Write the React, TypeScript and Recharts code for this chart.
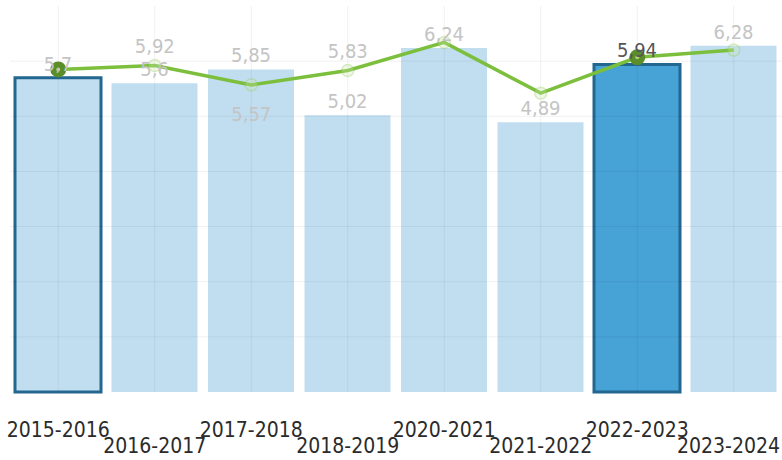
import React from "react";
import { ComposedChart, Bar, Line, XAxis, YAxis, ReferenceLine, Cell, LabelList } from "recharts";

const categories = ["2015-2016", "2016-2017", "2017-2018", "2018-2019", "2020-2021", "2021-2022", "2022-2023", "2023-2024"];
const barValues = [5.7, 5.6, 5.85, 5.02, 6.24, 4.89, 5.94, 6.28];
const lineValues = [5.85, 5.92, 5.57, 5.83, 6.34, 5.42, 6.07, 6.2];
const yTicks = [1, 2, 3, 4, 5, 6];
const outlinedCategory = "2015-2016";
const selectedCategory = "2022-2023";
const lineLabelPlacement = ["none", "above", "below", "above", "none", "none", "none", "none"];

const data = categories.map((c, i) => ({ name: c, bar: barValues[i], line: lineValues[i] }));

const FONT = "'DejaVu Sans Condensed', 'DejaVu Sans', sans-serif";
const fmt = (v: number) => String(v).replace(".", ",");

const Tick = (props: any) => {
  const { x, payload, index } = props;
  const y = index % 2 === 0 ? 437 : 453;
  const last = index === categories.length - 1;
  return (
    <text x={last ? 780 : x} y={y} textAnchor={last ? "end" : "middle"} fill="#2b2b2b" fontSize={21} fontFamily={FONT}>
      {payload.value}
    </text>
  );
};

const BarLabel = (props: any) => {
  const { x, y, width, value, index } = props;
  const sel = categories[index] === selectedCategory;
  return (
    <text x={x + width / 2} y={y - 7} textAnchor="middle" fill={sel ? "#555" : "#c4c4c4"} fontSize={20} fontFamily={FONT}>
      {fmt(value)}
    </text>
  );
};

const LineLabel = (props: any) => {
  const { x, y, value, index } = props;
  const p = lineLabelPlacement[index];
  if (p === "none") return null;
  const ty = p === "above" ? y - 13 : y + 36;
  return (
    <text x={x} y={ty} textAnchor="middle" fill="#c4c4c4" fontSize={20} fontFamily={FONT}>
      {fmt(value)}
    </text>
  );
};

const Dot = (props: any) => {
  const { cx, cy, index } = props;
  const c = categories[index];
  if (c === outlinedCategory || c === selectedCategory) {
    return (
      <g key={"d" + index}>
        <circle cx={cx} cy={cy} r={8} fill="#5b8d29" />
        <circle cx={cx} cy={cy} r={2} fill="#a9d46e" />
      </g>
    );
  }
  return <circle key={"d" + index} cx={cx} cy={cy} r={6} fill="rgba(205,232,175,0.3)" stroke="rgba(140,200,80,0.3)" strokeWidth={1.5} />;
};

export default function App() {
  return (
    <div style={{ position: "absolute", left: 0, top: 0, width: 782, height: 460, background: "#fff" }}>
      <ComposedChart width={782} height={460} data={data} margin={{ top: 6, right: 0, left: 10, bottom: 0 }}>
        <XAxis dataKey="name" axisLine={false} tickLine={false} height={68} tick={<Tick />} interval={0} />
        <YAxis hide domain={[0, 7]} ticks={yTicks} />
        <Bar dataKey="bar" barSize={86} isAnimationActive={false}>
          {data.map((d) => (
            <Cell
              key={d.name}
              fill={d.name === selectedCategory ? "#47a2d6" : "#c1def1"}
              stroke={d.name === selectedCategory || d.name === outlinedCategory ? "#236690" : "none"}
              strokeWidth={3}
            />
          ))}
          <LabelList dataKey="bar" content={<BarLabel />} />
        </Bar>
        {yTicks.map((t) => (
          <ReferenceLine key={"h" + t} y={t} stroke="#000" strokeOpacity={0.06} strokeWidth={1} />
        ))}
        {categories.map((c) => (
          <ReferenceLine key={"v" + c} x={c} stroke="#000" strokeOpacity={0.06} strokeWidth={1} />
        ))}
        <Line dataKey="line" stroke="#7cbf3c" strokeWidth={3.5} dot={<Dot />} activeDot={false} isAnimationActive={false}>
          <LabelList dataKey="line" content={<LineLabel />} />
        </Line>
      </ComposedChart>
    </div>
  );
}
